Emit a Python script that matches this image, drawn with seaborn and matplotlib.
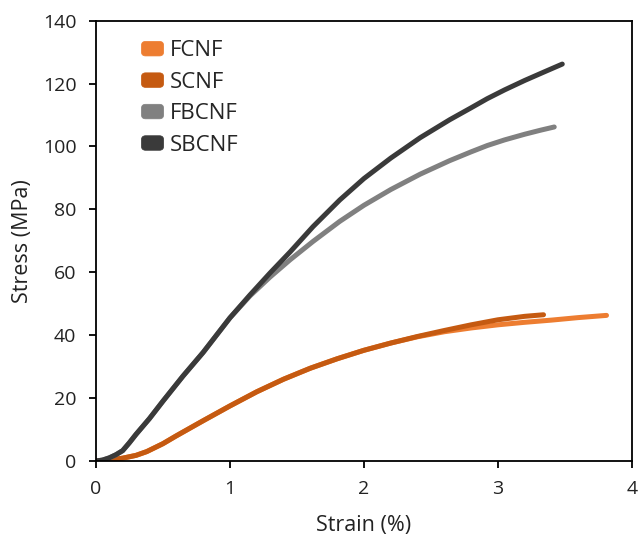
import matplotlib
matplotlib.use("Agg")
import matplotlib.pyplot as plt
import seaborn as sns
import pandas as pd
from matplotlib.patches import FancyBboxPatch, Patch
from matplotlib.legend_handler import HandlerPatch

# Stress-strain curves of the four nanofibril films
fcnf_strain = [0, 0.1, 0.2, 0.3, 0.38, 0.5, 0.6, 0.8, 1.0, 1.2, 1.4, 1.6, 1.8, 2.0, 2.2, 2.4,
               2.6, 2.8, 3.0, 3.2, 3.4, 3.6, 3.81]
fcnf_stress = [0, 0.3, 0.9, 1.8, 3.0, 5.5, 8.0, 12.8, 17.5, 22.0, 26.0, 29.5, 32.5, 35.2, 37.5, 39.5,
               41.1, 42.3, 43.3, 44.1, 44.8, 45.6, 46.3]

scnf_strain = [0, 0.1, 0.2, 0.3, 0.38, 0.5, 0.6, 0.8, 1.0, 1.2, 1.4, 1.6, 1.8, 2.0, 2.2, 2.4,
               2.6, 2.8, 3.0, 3.2, 3.34]
scnf_stress = [0, 0.3, 0.9, 1.8, 3.0, 5.5, 8.0, 12.8, 17.5, 22.0, 26.0, 29.5, 32.5, 35.2, 37.5, 39.6,
               41.5, 43.3, 44.9, 46.0, 46.5]

fbcnf_strain = [0, 0.05, 0.1, 0.15, 0.2, 0.25, 0.3, 0.4, 0.5, 0.65, 0.8, 1.0, 1.15, 1.3, 1.45,
                1.62, 1.82, 2.0, 2.2, 2.42, 2.64, 2.8, 2.92, 3.05, 3.2, 3.32, 3.42]
fbcnf_stress = [0, 0.3, 1.0, 2.0, 3.3, 5.8, 8.5, 13.5, 19.0, 27.0, 34.5, 45.5, 52.5, 58.5, 64.0,
                69.8, 76.2, 81.3, 86.3, 91.2, 95.5, 98.3, 100.3, 102.1, 103.9, 105.2, 106.2]

sbcnf_strain = [0, 0.05, 0.1, 0.15, 0.2, 0.25, 0.3, 0.4, 0.5, 0.65, 0.8, 1.0, 1.15, 1.3, 1.45,
                1.62, 1.82, 2.0, 2.2, 2.42, 2.64, 2.8, 2.92, 3.05, 3.2, 3.35, 3.48]
sbcnf_stress = [0, 0.3, 1.0, 2.0, 3.3, 5.8, 8.5, 13.5, 19.0, 27.0, 34.5, 45.5, 52.8, 59.8, 66.5,
                74.5, 83.0, 89.8, 96.3, 102.8, 108.5, 112.3, 115.2, 118.0, 121.0, 123.8, 126.2]

samples = ["FCNF", "SCNF", "FBCNF", "SBCNF"]
colors = ["#ED7D31", "#C55A11", "#808080", "#3A3A3A"]

x_ticks = [0, 1, 2, 3, 4]
y_ticks = [0, 20, 40, 60, 80, 100, 120, 140]

frames = []
for name, xs, ys in zip(samples,
                        [fcnf_strain, scnf_strain, fbcnf_strain, sbcnf_strain],
                        [fcnf_stress, scnf_stress, fbcnf_stress, sbcnf_stress]):
    frames.append(pd.DataFrame({"Strain": xs, "Stress": ys, "Sample": name}))
df = pd.concat(frames, ignore_index=True)

sns.set_theme(style="ticks")
plt.rcParams["font.family"] = ["Open Sans", "DejaVu Sans"]

fig = plt.figure(figsize=(6.39, 5.37), dpi=100)
ax = fig.add_axes([0.150, 0.1415, 0.839, 0.820])

palette = dict(zip(samples, colors))
sns.lineplot(data=df, x="Strain", y="Stress", hue="Sample", hue_order=samples,
             palette=palette, sort=False, estimator=None, linewidth=3.6,
             legend=False, ax=ax)
for line in ax.get_lines():
    line.set_solid_capstyle("round")
    line.set_solid_joinstyle("round")

ax.set_xlim(0, 4)
ax.set_ylim(0, 140)
ax.set_xticks(x_ticks)
ax.set_yticks(y_ticks)
ax.set_xticklabels([str(t) for t in x_ticks])
ax.set_yticklabels([str(t) for t in y_ticks])

for side in ["left", "right", "top", "bottom"]:
    ax.spines[side].set_visible(True)
    ax.spines[side].set_color("black")
    ax.spines[side].set_linewidth(1.3)

ax.tick_params(axis="both", direction="out", length=5, width=1.3, colors="black",
               labelsize=14, labelcolor="#222222")
ax.tick_params(axis="x", pad=9)
ax.tick_params(axis="y", pad=9)

ax.set_xlabel("Strain (%)", fontsize=15.5, color="#222222", labelpad=12)
ax.set_ylabel("Stress (MPa)", fontsize=15.5, color="#222222", labelpad=7)


class RoundedHandler(HandlerPatch):
    def create_artists(self, legend, orig_handle, xdescent, ydescent, width, height,
                       fontsize, trans):
        box = FancyBboxPatch((-xdescent, -ydescent), width, height,
                             boxstyle="round,pad=0,rounding_size=3",
                             facecolor=orig_handle.get_facecolor(),
                             edgecolor=orig_handle.get_facecolor(), linewidth=0.5,
                             transform=trans)
        return [box]


handles = [Patch(facecolor=c, label=s) for s, c in zip(samples, colors)]
ax.legend(handles=handles, loc="upper left", bbox_to_anchor=(0.085, 0.955),
          frameon=False, fontsize=16, handlelength=1.0, handleheight=0.63,
          handletextpad=0.3, labelspacing=0.47, borderpad=0, borderaxespad=0,
          handler_map={Patch: RoundedHandler()})

fig.savefig("out.png", dpi=100, facecolor="white")
